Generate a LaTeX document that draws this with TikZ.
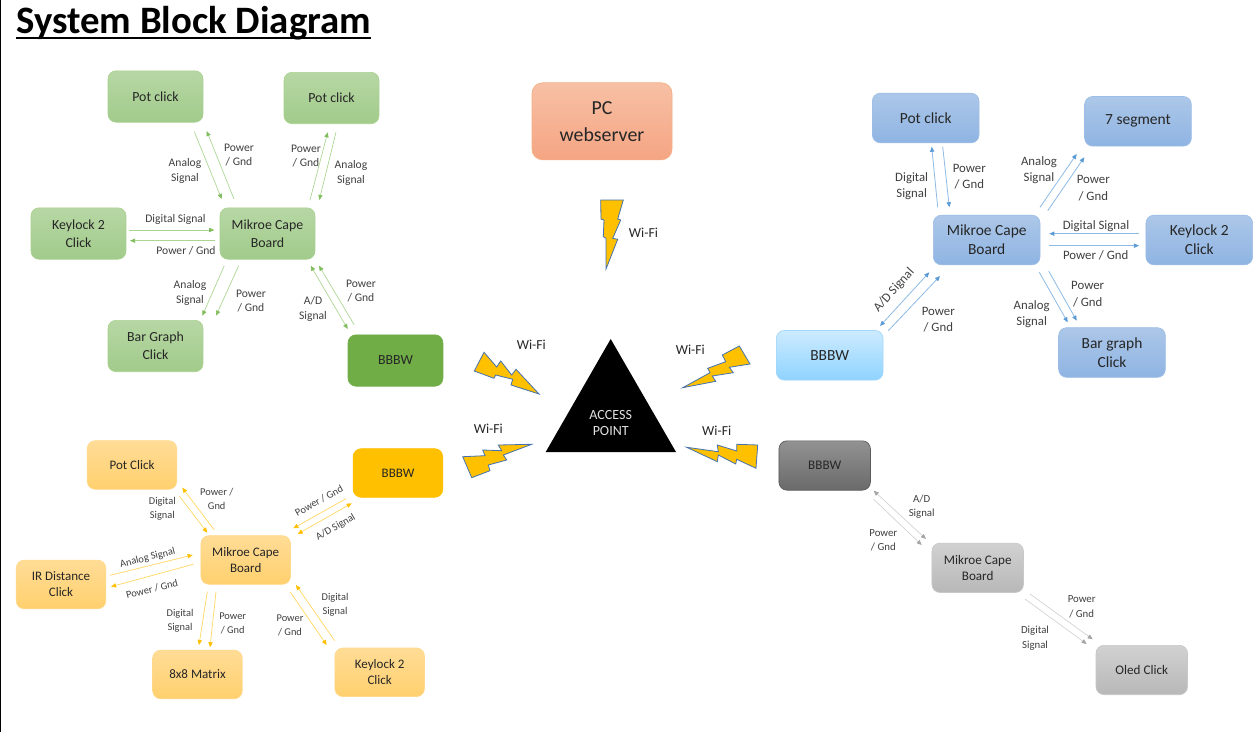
\documentclass[tikz,border=0pt]{standalone}
\usepackage{fontspec}
\setmainfont{Carlito}
\usetikzlibrary{arrows.meta}
\definecolor{ink}{HTML}{262626}
\definecolor{soft}{HTML}{404040}
\definecolor{greenEdge}{HTML}{A9D18E}
\definecolor{greenTop}{HTML}{B7D7A4}
\definecolor{greenBot}{HTML}{A1CB8B}
\definecolor{greenSolid}{HTML}{70AD47}
\definecolor{greenWire}{HTML}{82BE5F}
\definecolor{greenPale}{HTML}{ABD691}
\definecolor{blueEdge}{HTML}{9DBEE6}
\definecolor{blueTop}{HTML}{ACC7E8}
\definecolor{blueBot}{HTML}{8FB4E3}
\definecolor{skyEdge}{HTML}{A0D7FA}
\definecolor{skyTop}{HTML}{CDEBFF}
\definecolor{skyBot}{HTML}{8FD3FF}
\definecolor{blueWire}{HTML}{5B9BD5}
\definecolor{bluePale}{HTML}{8DBBE6}
\definecolor{yellowEdge}{HTML}{FFD98C}
\definecolor{yellowTop}{HTML}{FFDC96}
\definecolor{yellowBot}{HTML}{FFD06E}
\definecolor{yellowSolid}{HTML}{FFC000}
\definecolor{yellowPale}{HTML}{FFD65C}
\definecolor{greyEdge}{HTML}{C8C8C8}
\definecolor{greyTop}{HTML}{D1D1D1}
\definecolor{greyBot}{HTML}{B8B8B8}
\definecolor{darkEdge}{HTML}{5A5A5A}
\definecolor{darkTop}{HTML}{929292}
\definecolor{darkBot}{HTML}{6A6A6A}
\definecolor{greyWire}{HTML}{A5A5A5}
\definecolor{greyPale}{HTML}{D2D2D2}
\definecolor{pcEdge}{HTML}{F4B183}
\definecolor{pcTop}{HTML}{F7C0A5}
\definecolor{pcBot}{HTML}{F5A583}
\definecolor{boltEdge}{HTML}{4472B0}
\definecolor{apText}{HTML}{E1E1E1}
\tikzset{
	box/.style={rounded corners=6pt, inner sep=0pt, align=center, text=ink, line width=0.5pt},
	greenbox/.style={box, minimum width=71.2pt, minimum height=38.5pt, draw=greenEdge, top color=greenTop, bottom color=greenBot, font=\fontsize{10.4}{13.5}\selectfont},
	bluebox/.style={box, minimum width=80pt, minimum height=37.2pt, draw=blueEdge, top color=blueTop, bottom color=blueBot, font=\fontsize{11.6}{14.2}\selectfont},
	yellowbox/.style={box, minimum width=67.2pt, minimum height=36.4pt, draw=yellowEdge, top color=yellowTop, bottom color=yellowBot, font=\fontsize{9.75}{12}\selectfont},
	greybox/.style={box, minimum width=68.6pt, minimum height=37pt, draw=greyEdge, top color=greyTop, bottom color=greyBot, font=\fontsize{9.85}{12.2}\selectfont},
	lbl/.style={inner sep=0pt, align=center, text=soft, yshift=-0.6pt},
	greenlbl/.style={lbl, font=\fontsize{8.7}{10.9}\selectfont},
	bluelbl/.style={lbl, font=\fontsize{9.6}{12.2}\selectfont},
	yellowlbl/.style={lbl, font=\fontsize{7.8}{10.5}\selectfont},
	greylbl/.style={lbl, font=\fontsize{8.1}{11}\selectfont},
	wifilbl/.style={lbl, text=ink, font=\fontsize{10.3}{12}\selectfont},
	tipcolor/.code={\colorlet{tipc}{#1}},
	tip/.style={arrows={-{Triangle[length=3.8pt,width=3.2pt,color=tipc]}}},
	bothtip/.style={arrows={{Triangle[length=3.8pt,width=3.2pt,color=tipc]}-{Triangle[length=3.8pt,width=3.2pt,color=tipc]}}},
	greenline/.style={line width=0.5pt, color=greenPale, tipcolor=greenWire},
	blueline/.style={line width=0.6pt, color=bluePale, tipcolor=blueWire},
	yellowline/.style={line width=0.5pt, color=yellowPale, tipcolor=yellowSolid},
	greyline/.style={line width=0.5pt, color=greyPale, tipcolor=greyWire},
	bolt/.style={fill=yellowSolid, draw=boltEdge, line width=0.6pt, line join=miter}
}

\begin{document}
\begin{tikzpicture}[x=0.75pt, y=-0.75pt]
		%%%%% START %%%%%
		\useasboundingbox (0, 0) rectangle (1258, 732);
		\fill[white] (0, 0) rectangle (1258, 732);
		\draw[line width=1pt] (0.5, 0) -- (0.5, 732);
		
		\node[anchor=west, inner sep=0pt, font=\fontsize{29.1}{32}\selectfont\bfseries] (title) at (16, 23.5) {System Block Diagram};
		\draw[line width=1.5pt] (title.west |- 0, 37.5) -- (title.east |- 0, 37.5);
		
		%%%%% green board
		\node[greenbox] (potL) at (155.5, 96.5) {Pot click};
		\node[greenbox] (potR) at (331.5, 98) {Pot click};
		\node[greenbox] (keyG) at (78.5, 233.5) {Keylock 2\\Click};
		\node[greenbox] (mikG) at (267.5, 233.5) {Mikroe Cape\\Board};
		\node[greenbox] (barG) at (155.5, 346) {Bar Graph\\Click};
		\node[greenbox, draw=greenSolid, top color=greenSolid, bottom color=greenSolid] (bbbG) at (395.5, 360.5) {BBBW};
		
		\draw[greenline, tip] ([shift={(38.8, 35.2)}]potL.center) -- ([shift={(-45.8, -34.5)}]mikG.center);
		\draw[greenline, tip] ([shift={(-33.5, -34.5)}]mikG.center) -- ([shift={(51.2, 34.5)}]potL.center);
		\draw[greenline, tip] ([shift={(42.5, -33.5)}]mikG.center) -- ([shift={(-3.8, 34.3)}]potR.center);
		\draw[greenline, tip] ([shift={(4.5, 34.3)}]potR.center) -- ([shift={(51.8, -33.5)}]mikG.center);
		\draw[greenline, tip] ([shift={(50.8, -3.5)}]keyG.center) -- ([shift={(-53.2, -3.5)}]mikG.center);
		\draw[greenline, tip] ([shift={(-52.5, 7.2)}]mikG.center) -- ([shift={(51.5, 7.2)}]keyG.center);
		\draw[greenline, tip] ([shift={(-43.2, 32.2)}]mikG.center) -- ([shift={(46.8, -30.3)}]barG.center);
		\draw[greenline, tip] ([shift={(-28.8, 32.2)}]mikG.center) -- ([shift={(60.5, -30.3)}]barG.center);
		\draw[greenline, bothtip] ([shift={(43.2, 32.2)}]mikG.center) -- ([shift={(-47.8, -31.5)}]bbbG.center);
		\draw[greenline, tip] ([shift={(-41.2, -35.5)}]bbbG.center) -- ([shift={(51.5, 32.2)}]mikG.center);
		
		\node[greenlbl] (g1) at (185, 170) {Analog\\Signal};
		\node[greenlbl] (g2) at (239, 154) {Power\\/ Gnd};
		\node[greenlbl] (g3) at (306, 155) {Power\\/ Gnd};
		\node[greenlbl] (g4) at (351, 172) {Analog\\Signal};
		\node[greenlbl] (g5) at (175.5, 219) {Digital Signal};
		\node[greenlbl] (g6) at (186, 250) {Power / Gnd};
		\node[greenlbl] (g7) at (190, 292) {Analog\\Signal};
		\node[greenlbl] (g8) at (251, 300) {Power\\/ Gnd};
		\node[greenlbl] (g9) at (313, 308) {A/D\\Signal};
		\node[greenlbl] (g10) at (361, 290) {Power\\/ Gnd};
		
		%%%%% blue board
		\node[bluebox] (potB) at (925.7, 118) {Pot click};
		\node[bluebox] (segB) at (1138, 121.3) {7 segment};
		\node[bluebox] (mikB) at (986.7, 240) {Mikroe Cape\\Board};
		\node[bluebox] (keyB) at (1199.3, 240) {Keylock 2\\Click};
		\node[bluebox] (barB) at (1112, 352.5) {Bar graph\\Click};
		\node[bluebox, draw=skyEdge, top color=skyTop, bottom color=skyBot] (bbbB) at (829.7, 355.3) {BBBW};
		
		\draw[blueline, tip] ([shift={(-49, -32.7)}]mikB.center) -- ([shift={(6, 28.7)}]potB.center);
		\draw[blueline, tip] ([shift={(17, 28.7)}]potB.center) -- ([shift={(-37.4, -32.7)}]mikB.center);
		\draw[blueline, tip] ([shift={(53.3, -32.7)}]mikB.center) -- ([shift={(-61.3, 32.7)}]segB.center);
		\draw[blueline, tip] ([shift={(61, -29.3)}]mikB.center) -- ([shift={(-53.7, 36)}]segB.center);
		\draw[blueline, tip] ([shift={(-60.3, -6.3)}]keyB.center) -- ([shift={(62.6, -6.3)}]mikB.center);
		\draw[blueline, tip] ([shift={(62, 5.7)}]mikB.center) -- ([shift={(-60.3, 5.7)}]keyB.center);
		\draw[blueline, tip] ([shift={(52.6, 32.3)}]mikB.center) -- ([shift={(-44.3, -30.2)}]barB.center);
		\draw[blueline, tip] ([shift={(62, 31)}]mikB.center) -- ([shift={(-35.3, -31.8)}]barB.center);
		\draw[blueline, bothtip] ([shift={(-57.4, 32.3)}]mikB.center) -- ([shift={(50.3, -29.3)}]bbbB.center);
		\draw[blueline, tip] ([shift={(58.6, -24.6)}]bbbB.center) -- ([shift={(-46.7, 36)}]mikB.center);
		
		\node[bluelbl] (b1) at (911.7, 185.3) {Digital\\Signal};
		\node[bluelbl] (b2) at (969.3, 176) {Power\\/ Gnd};
		\node[bluelbl] (b3) at (1039, 169) {Analog\\Signal};
		\node[bluelbl] (b4) at (1093.3, 187.3) {Power\\/ Gnd};
		\node[bluelbl] (b5) at (1096, 225) {Digital Signal};
		\node[bluelbl] (b6) at (1095.7, 255) {Power / Gnd};
		\node[bluelbl] (b7) at (1087.7, 293.3) {Power\\/ Gnd};
		\node[bluelbl] (b8) at (1031.7, 313.3) {Analog\\Signal};
		\node[bluelbl, rotate=48] (b9) at (894, 289.3) {A/D Signal};
		\node[bluelbl] (b10) at (938.3, 318.7) {Power\\/ Gnd};
		
		%%%%% yellow board
		\node[yellowbox] (potY) at (132, 465) {Pot Click};
		\node[yellowbox, draw=yellowSolid, top color=yellowSolid, bottom color=yellowSolid] (bbbY) at (398, 473) {BBBW};
		\node[yellowbox] (mikY) at (245.7, 560) {Mikroe Cape\\Board};
		\node[yellowbox] (irY) at (61, 584.5) {IR Distance\\Click};
		\node[yellowbox] (matY) at (197.5, 674.5) {8x8 Matrix};
		\node[yellowbox] (keyY) at (379.7, 672.3) {Keylock 2\\Click};
		
		\draw[yellowline, tip] ([shift={(47.3, 31)}]potY.center) -- ([shift={(-38.4, -27.3)}]mikY.center);
		\draw[yellowline, tip] ([shift={(-31.4, -30)}]mikY.center) -- ([shift={(50.3, 22.7)}]potY.center);
		\draw[yellowline, tip] ([shift={(-52, 25.7)}]bbbY.center) -- ([shift={(47.6, -31.7)}]mikY.center);
		\draw[yellowline, bothtip] ([shift={(52, -26)}]mikY.center) -- ([shift={(-46.3, 30.3)}]bbbY.center);
		\draw[yellowline, tip] ([shift={(49, -9.2)}]irY.center) -- ([shift={(-53, -5)}]mikY.center);
		\draw[yellowline, tip] ([shift={(-52.4, 4.3)}]mikY.center) -- ([shift={(50, 2.2)}]irY.center);
		\draw[yellowline, tip] ([shift={(-38.4, 31.7)}]mikY.center) -- ([shift={(1.5, -29.5)}]matY.center);
		\draw[yellowline, tip] ([shift={(-29.7, 31.7)}]mikY.center) -- ([shift={(12.5, -27.2)}]matY.center);
		\draw[yellowline, tip] ([shift={(44.3, 31.7)}]mikY.center) -- ([shift={(-53, -27.3)}]keyY.center);
		\draw[yellowline, tip] ([shift={(-45, -31.6)}]keyY.center) -- ([shift={(50.3, 25)}]mikY.center);
		
		\node[yellowlbl] (y1) at (162.3, 507.7) {Digital\\Signal};
		\node[yellowlbl] (y2) at (216.7, 497.7) {Power /\\Gnd};
		\node[yellowlbl, rotate=29] (y3) at (319, 500) {Power / Gnd};
		\node[yellowlbl, rotate=30] (y4) at (335.7, 526.7) {A/D Signal};
		\node[yellowlbl, rotate=14] (y5) at (147.7, 557.3) {Analog Signal};
		\node[yellowlbl, rotate=14] (y6) at (152, 588.3) {Power / Gnd};
		\node[yellowlbl] (y7) at (180, 620) {Digital\\Signal};
		\node[yellowlbl] (y8) at (232.7, 622.3) {Power\\/ Gnd};
		\node[yellowlbl] (y9) at (290, 625) {Power\\/ Gnd};
		\node[yellowlbl] (y10) at (335, 603.7) {Digital\\Signal};
		
		%%%%% grey board
		\node[greybox, draw=darkEdge, top color=darkTop, bottom color=darkBot] (bbbK) at (824.7, 465.5) {BBBW};
		\node[greybox] (mikK) at (977.7, 567.8) {Mikroe Cape\\Board};
		\node[greybox] (oledK) at (1141.8, 670) {Oled Click};
		
		\draw[greyline, bothtip] ([shift={(49, 25.2)}]bbbK.center) -- ([shift={(-51.7, -28.8)}]mikK.center);
		\draw[greyline, tip] ([shift={(49, 33.8)}]bbbK.center) -- ([shift={(-56, -22.8)}]mikK.center);
		\draw[greyline, tip] ([shift={(52.3, 26.2)}]mikK.center) -- ([shift={(-49.1, -30.7)}]oledK.center);
		\draw[greyline, tip] ([shift={(47.3, 31.2)}]mikK.center) -- ([shift={(-55.1, -26)}]oledK.center);
		
		\node[greylbl] (k1) at (921.7, 506) {A/D\\Signal};
		\node[greylbl] (k2) at (883.3, 539.3) {Power\\/ Gnd};
		\node[greylbl] (k3) at (1081.7, 606) {Power\\/ Gnd};
		\node[greylbl] (k4) at (1035, 637.3) {Digital\\Signal};
		
		%%%%% middle
		\node[box, minimum width=105pt, minimum height=57.8pt, rounded corners=8pt, draw=pcEdge, top color=pcTop, bottom color=pcBot, font=\fontsize{14.9}{20}\selectfont] (pc) at (602, 121.3) {PC\\webserver};
		
		\fill[black] (610.7, 339) -- (676, 452) -- (545.7, 452) -- cycle;
		\node[inner sep=0pt, align=center, text=apText, font=\fontsize{10.5}{12.5}\selectfont] (ap) at (610.7, 423) {ACCESS\\POINT};
		
		\draw[bolt] (600.7, 200) -- (623.3, 200) -- (617.7, 219) -- (620.7, 220) -- (612.7, 238.3) -- (617.7, 239.3) -- (606, 269) -- (606, 238.3) -- (603.3, 236.7) -- (604, 220) -- (601, 219) -- cycle;
		\draw[bolt] (484, 352.3) -- (496.7, 367) -- (500.7, 361) -- (511.7, 375) -- (516, 369.3) -- (539, 394) -- (511, 385) -- (512.7, 379.3) -- (495.7, 375) -- (494, 378.3) -- (474.3, 371) -- cycle;
		\draw[bolt] (682.7, 387.7) -- (710, 372.7) -- (707.7, 368.3) -- (725.7, 361.7) -- (722.3, 355) -- (739.3, 346) -- (750, 364) -- (729.3, 367.3) -- (733.3, 372.7) -- (712.3, 376) -- (715.7, 381.3) -- cycle;
		\draw[bolt] (531.7, 444.3) -- (498.3, 445) -- (501.7, 450.7) -- (482.7, 450) -- (485, 455.7) -- (462.7, 456.7) -- (471.7, 477.7) -- (490, 470.7) -- (488.3, 465) -- (506.7, 460) -- (503.3, 455) -- cycle;
		\draw[bolt] (686.7, 447.3) -- (718.3, 451.7) -- (717.3, 445) -- (736.7, 451) -- (736.7, 444.3) -- (757.7, 445) -- (756, 468.3) -- (736.7, 459.3) -- (735.7, 464) -- (718.3, 455) -- (717.3, 461.7) -- cycle;
		
		\node[wifilbl] (w1) at (643.5, 232) {Wi-Fi};
		\node[wifilbl] (w2) at (531.3, 344) {Wi-Fi};
		\node[wifilbl] (w3) at (690.3, 349) {Wi-Fi};
		\node[wifilbl] (w4) at (488.3, 428.3) {Wi-Fi};
		\node[wifilbl] (w5) at (716.7, 430) {Wi-Fi};
		%%%%% END %%%%%
	\end{tikzpicture}
\end{document}
